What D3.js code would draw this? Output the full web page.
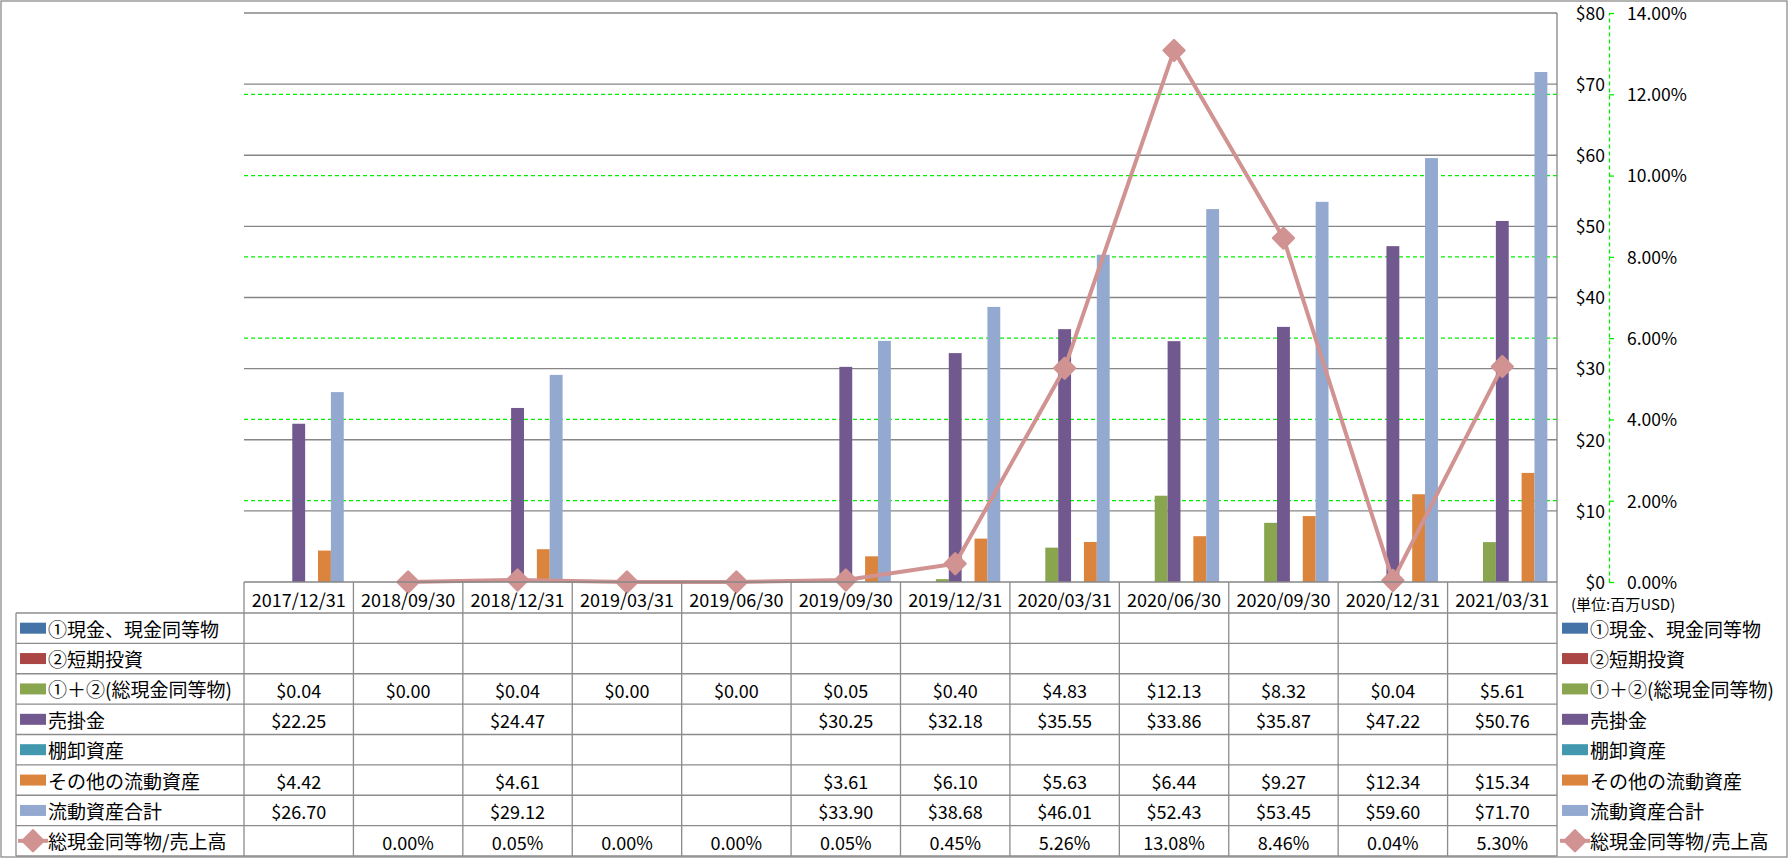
<!DOCTYPE html>
<html><head><meta charset="utf-8">
<script src="https://cdn.jsdelivr.net/npm/d3@7"></script>
<style>
html,body{margin:0;padding:0;background:#fff;}
svg{display:block;}
text{font-family:"Noto Sans CJK JP","Noto Sans",sans-serif;fill:#000;}
</style></head>
<body>
<svg id="chart" width="1789" height="858"></svg>
<script>
// ---- data ----
const categories = ["2017/12/31","2018/09/30","2018/12/31","2019/03/31","2019/06/30","2019/09/30","2019/12/31","2020/03/31","2020/06/30","2020/09/30","2020/12/31","2021/03/31"];
const seriesNames = ["①現金、現金同等物","②短期投資","①＋②(総現金同等物)","売掛金","棚卸資産","その他の流動資産","流動資産合計"];
const cashEq      = [null,null,null,null,null,null,null,null,null,null,null,null];
const shortInv    = [null,null,null,null,null,null,null,null,null,null,null,null];
const totalCash   = [0.04,0.00,0.04,0.00,0.00,0.05,0.40,4.83,12.13,8.32,0.04,5.61];
const receivables = [22.25,null,24.47,null,null,30.25,32.18,35.55,33.86,35.87,47.22,50.76];
const inventory   = [null,null,null,null,null,null,null,null,null,null,null,null];
const otherCur    = [4.42,null,4.61,null,null,3.61,6.10,5.63,6.44,9.27,12.34,15.34];
const totalCur    = [26.70,null,29.12,null,null,33.90,38.68,46.01,52.43,53.45,59.60,71.70];
const lineName    = "総現金同等物/売上高";
const cashRatio   = [null,0.00,0.05,0.00,0.00,0.05,0.45,5.26,13.08,8.46,0.04,5.30];
const yTicks  = [0,10,20,30,40,50,60,70,80];
const y2Ticks = [0,2,4,6,8,10,12,14];
const unitLabel = "(単位:百万USD)";

const barSeries = [cashEq, shortInv, totalCash, receivables, inventory, otherCur, totalCur];
const colors = ["#4572A7","#AA4643","#89A54E","#71588F","#4198AF","#DB843D","#93A9CF"];
const lineColor = "#D19392";

// ---- layout ----
const W = 1789, H = 858;
const pL = 244, pR = 1557, pT = 13, pB = 582;
const hdrB = 613, rowH = (856 - 613) / 8, tabL = 16;
const gridGray = "#868686";

const svg = d3.select("#chart");

// outer border
svg.append("rect").attr("x",1).attr("y",1).attr("width",W-3).attr("height",H-2)
  .attr("fill","#fff").attr("stroke","#8c8c8c").attr("stroke-width",1.3);

const x0 = d3.scaleBand().domain(categories).range([pL,pR]).paddingInner(0).paddingOuter(0);
const x1 = d3.scaleBand().domain(seriesNames).range([0,x0.bandwidth()]).paddingInner(0).paddingOuter(0.75);
const y  = d3.scaleLinear().domain([0,80]).range([pB,pT]);
const y2 = d3.scaleLinear().domain([0,14]).range([pB,pT]);

// secondary gridlines (green dashed)
svg.append("g").selectAll("line").data(y2Ticks.filter(d=>d>0&&d<14)).join("line")
  .attr("x1",pL).attr("x2",pR).attr("y1",d=>y2(d)).attr("y2",d=>y2(d))
  .attr("stroke","#00F000").attr("stroke-width",1.2).attr("stroke-dasharray","4,3");

// primary gridlines
svg.append("g").selectAll("line").data(yTicks.filter(d=>d>0)).join("line")
  .attr("x1",pL).attr("x2",pR).attr("y1",d=>y(d)).attr("y2",d=>y(d))
  .attr("stroke",gridGray).attr("stroke-width",1.3);

// primary axis line at right edge of plot
svg.append("line").attr("x1",pR).attr("x2",pR).attr("y1",pT).attr("y2",pB)
  .attr("stroke",gridGray).attr("stroke-width",1.3);

// bars
const barG = svg.append("g");
barSeries.forEach((vals,si)=>{
  barG.append("g").selectAll("rect").data(vals.map((v,i)=>({v,c:categories[i]})).filter(d=>d.v!=null && d.v>0))
    .join("rect")
    .attr("x",d=>x0(d.c)+x1(seriesNames[si]))
    .attr("width",x1.bandwidth())
    .attr("y",d=>y(d.v))
    .attr("height",d=>pB-y(d.v))
    .attr("fill",colors[si]);
});

// line
const pts = cashRatio.map((v,i)=>({v,c:categories[i]}));
const line = d3.line().defined(d=>d.v!=null).x(d=>x0(d.c)+x0.bandwidth()/2).y(d=>y2(d.v));
svg.append("path").datum(pts).attr("d",line).attr("fill","none")
  .attr("stroke",lineColor).attr("stroke-width",4).attr("stroke-linejoin","round");
const diamond = d3.symbol().type(d3.symbolSquare).size(215);
svg.append("g").selectAll("path").data(pts.filter(d=>d.v!=null)).join("path")
  .attr("d",diamond)
  .attr("transform",d=>`translate(${x0(d.c)+x0.bandwidth()/2},${y2(d.v)}) rotate(45)`)
  .attr("fill",lineColor).attr("stroke",lineColor).attr("stroke-width",2.5).attr("stroke-linejoin","round");

// x axis line (header top)
svg.append("line").attr("x1",pL).attr("x2",pR).attr("y1",pB).attr("y2",pB)
  .attr("stroke",gridGray).attr("stroke-width",1.3);

// primary axis labels
const axL = svg.append("g").attr("transform",`translate(1609,0)`)
  .call(d3.axisLeft(y).tickValues(yTicks).tickSize(0).tickPadding(4).tickFormat(d3.format("$.0f")));
axL.select(".domain").remove();
axL.selectAll("text").attr("font-size",17.5).attr("dy","0.36em").attr("font-family",'"Noto Sans CJK JP","Noto Sans",sans-serif');

// secondary axis
const axR = svg.append("g").attr("transform",`translate(1609,0)`)
  .call(d3.axisRight(y2).tickValues(y2Ticks).tickSize(5).tickSizeOuter(0).tickPadding(13).tickFormat(d=>d.toFixed(2)+"%"));
axR.select(".domain").attr("stroke","#00F000").attr("stroke-width",1.3).attr("stroke-dasharray","4,3");
axR.selectAll(".tick line").attr("stroke","#00F000").attr("stroke-width",1.3);
axR.selectAll("text").attr("font-size",17.5).attr("dy","0.36em").attr("font-family",'"Noto Sans CJK JP","Noto Sans",sans-serif');

// unit label
svg.append("text").attr("x",1571).attr("y",603).attr("dominant-baseline","central")
  .attr("font-size",15).text(unitLabel);

// ---- data table ----
const tab = svg.append("g");
for(let k=0;k<=8;k++){
  const yy = hdrB + k*rowH;
  tab.append("line").attr("x1",tabL).attr("x2",pR).attr("y1",yy).attr("y2",yy)
    .attr("stroke","#8c8c8c").attr("stroke-width",1.3);
}
tab.append("line").attr("x1",tabL).attr("x2",tabL).attr("y1",hdrB).attr("y2",hdrB+8*rowH)
  .attr("stroke","#8c8c8c").attr("stroke-width",1.3);
const bounds = categories.map(c=>x0(c)).concat([pR]);
tab.selectAll("line.v").data(bounds).join("line").attr("class","v")
  .attr("x1",d=>d).attr("x2",d=>d).attr("y1",pB).attr("y2",hdrB+8*rowH)
  .attr("stroke","#8c8c8c").attr("stroke-width",1.3);

tab.selectAll("text.h").data(categories).join("text").attr("class","h")
  .attr("x",d=>x0(d)+x0.bandwidth()/2).attr("y",(pB+hdrB)/2+1)
  .attr("text-anchor","middle").attr("dominant-baseline","central").attr("font-size",18)
  .text(d=>d);

const fmt$ = d3.format("$.2f");
const allRows = barSeries.map((vals,si)=>({name:seriesNames[si],color:colors[si],vals,isLine:false,f:fmt$}))
  .concat([{name:lineName,color:lineColor,vals:cashRatio,isLine:true,f:d=>d.toFixed(2)+"%"}]);

function legendKey(g, x, yc, r){
  if(r.isLine){
    g.append("line").attr("x1",x-2).attr("x2",x+28).attr("y1",yc).attr("y2",yc)
      .attr("stroke",r.color).attr("stroke-width",4);
    g.append("path").attr("d",diamond).attr("transform",`translate(${x+13},${yc}) rotate(45)`)
      .attr("fill",r.color).attr("stroke",r.color).attr("stroke-width",2.5).attr("stroke-linejoin","round");
  } else {
    g.append("rect").attr("x",x).attr("y",yc-5.5).attr("width",26).attr("height",11).attr("fill",r.color);
  }
}

allRows.forEach((r,ri)=>{
  const yc = hdrB + (ri+0.5)*rowH;
  legendKey(tab, 20, yc, r);
  tab.append("text").attr("x",48).attr("y",yc).attr("dominant-baseline","central")
    .attr("font-size",19).text(r.name);
  legendKey(tab, 1562, yc, r);
  tab.append("text").attr("x",1590).attr("y",yc).attr("dominant-baseline","central")
    .attr("font-size",19).text(r.name);
  tab.append("g").selectAll("text").data(r.vals.map((v,i)=>({v,c:categories[i]})).filter(d=>d.v!=null))
    .join("text").attr("x",d=>x0(d.c)+x0.bandwidth()/2).attr("y",yc+1)
    .attr("text-anchor","middle").attr("dominant-baseline","central").attr("font-size",18)
    .text(d=>r.f(d.v));
});
</script>
</body></html>
